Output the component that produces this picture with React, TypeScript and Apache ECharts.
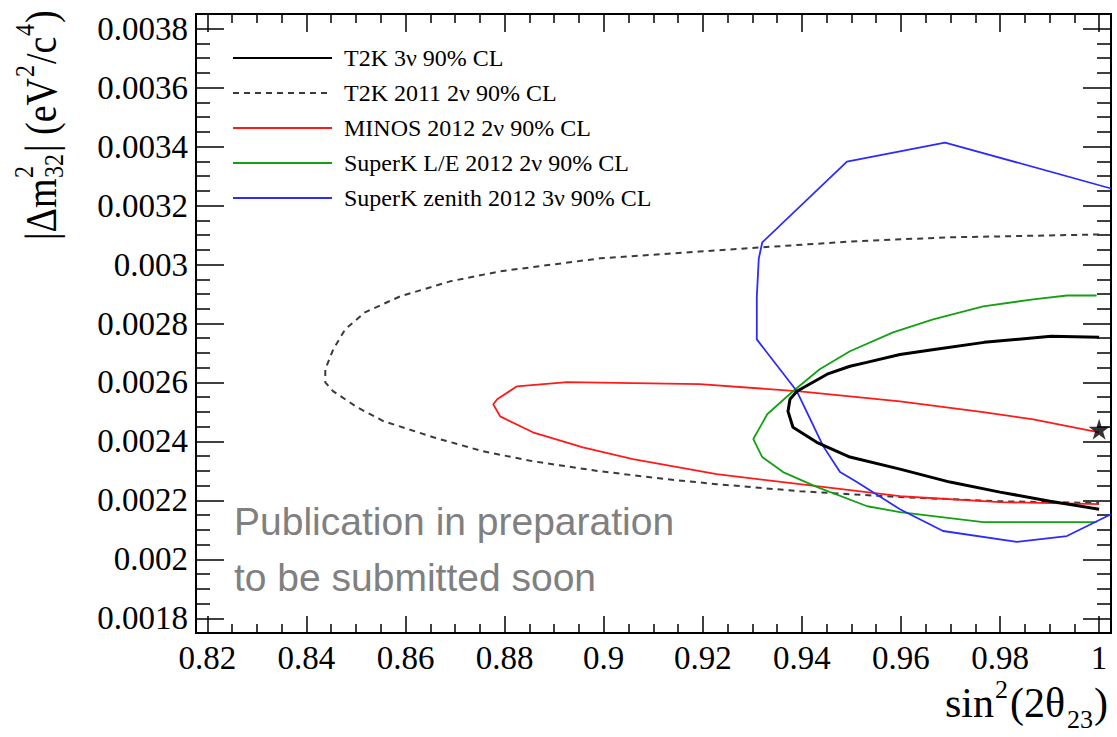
import React, { useEffect, useRef } from "react";
import * as echarts from "echarts";

// ---------- axes ----------
const X_MIN = 0.8177;
const X_MAX = 1.0024;
const Y_MIN = 0.00175;
const Y_MAX = 0.00385;

const xMajorTicks = [0.82, 0.84, 0.86, 0.88, 0.9, 0.92, 0.94, 0.96, 0.98, 1.0];
const xTickLabels = ["0.82", "0.84", "0.86", "0.88", "0.9", "0.92", "0.94", "0.96", "0.98", "1"];
const yMajorTicks = [0.0018, 0.002, 0.0022, 0.0024, 0.0026, 0.0028, 0.003, 0.0032, 0.0034, 0.0036, 0.0038];
const yTickLabels = ["0.0018", "0.002", "0.0022", "0.0024", "0.0026", "0.0028", "0.003", "0.0032", "0.0034", "0.0036", "0.0038"];
const MINOR_DIVISIONS = 4;

// ---------- series ----------
const seriesNames = [
  "T2K 3ν 90% CL",
  "T2K 2011 2ν 90% CL",
  "MINOS 2012 2ν 90% CL",
  "SuperK L/E 2012 2ν 90% CL",
  "SuperK zenith 2012 3ν 90% CL",
];

const t2k3nu: [number, number][] = [
  [1.0, 0.002753], [0.9903, 0.002757], [0.9768, 0.002736], [0.9667, 0.002712], [0.9598, 0.002695],
  [0.9531, 0.002668], [0.9497, 0.002655], [0.9451, 0.002628], [0.939, 0.00257], [0.9376, 0.002543],
  [0.9372, 0.002502], [0.9382, 0.002448], [0.943, 0.002397], [0.9497, 0.002347], [0.9598, 0.002306],
  [0.9699, 0.002262], [0.98, 0.002228], [0.9901, 0.002197], [1.0, 0.00217],
];

const t2k2011: [number, number][] = [
  [1.0, 0.003102], [0.9689, 0.003092], [0.9497, 0.003078], [0.9316, 0.003058], [0.9193, 0.003044],
  [0.8993, 0.003021], [0.8791, 0.002977], [0.869, 0.002943], [0.8589, 0.002892], [0.8518, 0.002838],
  [0.8478, 0.00278], [0.8454, 0.002712], [0.8438, 0.002645], [0.8438, 0.0026], [0.8454, 0.00257],
  [0.8502, 0.002516], [0.8555, 0.002469], [0.8656, 0.002414], [0.8755, 0.002367], [0.8856, 0.002333],
  [0.8991, 0.002299], [0.9126, 0.002272], [0.9228, 0.002255], [0.9396, 0.002231], [0.9598, 0.002211],
  [0.98, 0.002197], [1.0, 0.002191],
];

const minos2012: [number, number][] = [
  [1.0, 0.002431], [0.9867, 0.002475], [0.9766, 0.002499], [0.9598, 0.002536], [0.9396, 0.00257],
  [0.9194, 0.002594], [0.8926, 0.002601], [0.8825, 0.002587], [0.8785, 0.002543], [0.8777, 0.002526],
  [0.8791, 0.002485], [0.8857, 0.002431], [0.8958, 0.00238], [0.9059, 0.00234], [0.9228, 0.002289],
  [0.9396, 0.002255], [0.9598, 0.002214], [0.98, 0.002194], [1.0, 0.002187],
];

const superKLE2012: [number, number][] = [
  [0.9995, 0.002895], [0.9935, 0.002895], [0.9867, 0.002882], [0.9766, 0.002858], [0.9665, 0.002814],
  [0.9584, 0.00277], [0.9497, 0.002706], [0.9436, 0.002645], [0.9382, 0.00257], [0.933, 0.002492],
  [0.9302, 0.002408], [0.932, 0.002347], [0.9362, 0.002296], [0.9431, 0.002245], [0.9532, 0.00218],
  [0.9598, 0.00216], [0.9766, 0.002126], [0.9995, 0.002126],
];

const superKZenith2012: [number, number][] = [
  [1.0024, 0.003258], [0.9689, 0.003414], [0.9491, 0.003349], [0.932, 0.003075], [0.9313, 0.00302],
  [0.9309, 0.00289], [0.9309, 0.002746], [0.939, 0.00257], [0.9443, 0.002384], [0.9477, 0.002296],
  [0.9511, 0.002262], [0.9598, 0.00217], [0.9685, 0.002096], [0.9834, 0.002059], [0.9935, 0.002079],
  [1.0024, 0.002153],
];

const bestFit: [number, number][] = [[1.0, 0.002441]];

const STAR =
  "path://M50,0 L61.2,34.5 L97.6,34.5 L68.2,55.9 L79.4,90.5 L50,69.1 L20.6,90.5 L31.8,55.9 L2.4,34.5 L38.8,34.5 Z";

function minorTicks(majors: number[], parts: number): number[] {
  const out: number[] = [];
  for (let i = 0; i < majors.length - 1; i++) {
    for (let k = 1; k < parts; k++) {
      out.push(majors[i] + ((majors[i + 1] - majors[i]) * k) / parts);
    }
  }
  return out;
}

function labelOf(values: number[], labels: string[], v: number): string {
  let best = 0;
  for (let i = 0; i < values.length; i++) {
    if (Math.abs(values[i] - v) < Math.abs(values[best] - v)) best = i;
  }
  return labels[best];
}

const SERIF = "Liberation Serif";
const tickLine = { color: "#000", width: 1.5 };

function makeAxis(
  min: number,
  max: number,
  position: string,
  ticks: number[],
  length: number,
  label: any
) {
  return {
    type: "value",
    min,
    max,
    position,
    axisLine: { show: false },
    splitLine: { show: false },
    axisTick: { show: true, inside: true, length, customValues: ticks, lineStyle: tickLine },
    axisLabel: label,
  };
}

export default function App() {
  const ref = useRef<HTMLDivElement>(null);

  useEffect(() => {
    if (!ref.current) return;
    const chart = echarts.init(ref.current, undefined, { renderer: "svg" });
    const xMinor = minorTicks(xMajorTicks, MINOR_DIVISIONS);
    const yMinor = minorTicks(yMajorTicks, MINOR_DIVISIONS);

    const mainLabelStyle = { fontFamily: SERIF, fontSize: 33, color: "#000" };

    const lineSeries = (name: string, data: [number, number][], lineStyle: any, z = 3) => ({
      name,
      type: "line",
      data,
      xAxisIndex: 0,
      yAxisIndex: 0,
      symbol: "none",
      smooth: false,
      lineStyle,
      itemStyle: { color: lineStyle.color },
      z,
    });

    const supStyle = (text: string, size: number) => ({
      text,
      fontFamily: SERIF,
      fontSize: size,
      fill: "#000",
      align: "left",
      verticalAlign: "middle",
    });

    chart.setOption({
      animation: false,
      backgroundColor: "#fff",
      grid: {
        left: 196,
        right: 6,
        top: 14,
        bottom: 104,
        show: true,
        borderColor: "#000",
        borderWidth: 2,
        backgroundColor: "transparent",
      },
      xAxis: [
        makeAxis(X_MIN, X_MAX, "bottom", xMajorTicks, 17, {
          show: true,
          customValues: xMajorTicks,
          margin: 8,
          formatter: (v: number) => labelOf(xMajorTicks, xTickLabels, v),
          ...mainLabelStyle,
        }),
        makeAxis(X_MIN, X_MAX, "bottom", xMinor, 9, { show: false }),
        makeAxis(X_MIN, X_MAX, "top", xMajorTicks, 18, { show: false }),
        makeAxis(X_MIN, X_MAX, "top", xMinor, 9, { show: false }),
      ],
      yAxis: [
        makeAxis(Y_MIN, Y_MAX, "left", yMajorTicks, 28, {
          show: true,
          customValues: yMajorTicks,
          margin: 8,
          formatter: (v: number) => labelOf(yMajorTicks, yTickLabels, v),
          ...mainLabelStyle,
        }),
        makeAxis(Y_MIN, Y_MAX, "left", yMinor, 14, { show: false }),
        makeAxis(Y_MIN, Y_MAX, "right", yMajorTicks, 28, { show: false }),
        makeAxis(Y_MIN, Y_MAX, "right", yMinor, 14, { show: false }),
      ],
      legend: {
        show: true,
        orient: "vertical",
        left: 227,
        top: 41,
        itemWidth: 99,
        itemHeight: 14,
        itemGap: 11,
        selectedMode: false,
        data: seriesNames,
        itemStyle: { opacity: 0 },
        textStyle: { fontFamily: SERIF, fontSize: 24, color: "#000", padding: [0, 0, 0, 7] },
      },
      series: [
        lineSeries(seriesNames[1], t2k2011, { color: "#3a3a3a", width: 2, type: [6, 5] }, 2),
        lineSeries(seriesNames[2], minos2012, { color: "#ff1a1a", width: 1.8 }),
        lineSeries(seriesNames[3], superKLE2012, { color: "#14a014", width: 1.8 }),
        lineSeries(seriesNames[4], superKZenith2012, { color: "#2b2bff", width: 1.8 }),
        lineSeries(seriesNames[0], t2k3nu, { color: "#000", width: 3 }, 4),
        {
          type: "scatter",
          data: bestFit,
          xAxisIndex: 0,
          yAxisIndex: 0,
          symbol: STAR,
          symbolSize: 21,
          itemStyle: { color: "#000" },
          z: 6,
        },
      ],
      graphic: [
        {
          type: "text",
          x: 234,
          y: 493,
          style: {
            text: "Publication in preparation\nto be submitted soon",
            fontFamily: "Liberation Sans",
            fontSize: 39,
            lineHeight: 56,
            fill: "#808080",
            align: "left",
            verticalAlign: "top",
          },
        },
        {
          type: "group",
          x: 42,
          y: 240,
          rotation: Math.PI / 2,
          scaleY: 1.15,
          children: [
            { type: "text", x: 0, y: 0, style: supStyle("|Δm", 38) },
            { type: "text", x: 62, y: -16, style: supStyle("2", 24) },
            { type: "text", x: 62, y: 10, style: supStyle("32", 24) },
            { type: "text", x: 88, y: 0, style: supStyle("| (eV", 38) },
            { type: "text", x: 163, y: -15, style: supStyle("2", 24) },
            { type: "text", x: 176, y: 0, style: supStyle("/c", 38) },
            { type: "text", x: 204, y: -15, style: supStyle("4", 24) },
            { type: "text", x: 217, y: 0, style: supStyle(")", 38) },
          ],
        },
        {
          type: "group",
          x: 945,
          y: 703,
          children: [
            { type: "text", x: 0, y: 0, style: supStyle("sin", 42) },
            { type: "text", x: 50, y: -14, style: supStyle("2", 26) },
            { type: "text", x: 65, y: 0, style: supStyle("(2θ", 42) },
            { type: "text", x: 122, y: 16, style: supStyle("23", 26) },
            { type: "text", x: 149, y: 0, style: supStyle(")", 42) },
          ],
        },
      ],
    });

    return () => chart.dispose();
  }, []);

  return (
    <div
      ref={ref}
      style={{ position: "absolute", left: 0, top: 0, width: 1117, height: 737, background: "#fff" }}
    />
  );
}
